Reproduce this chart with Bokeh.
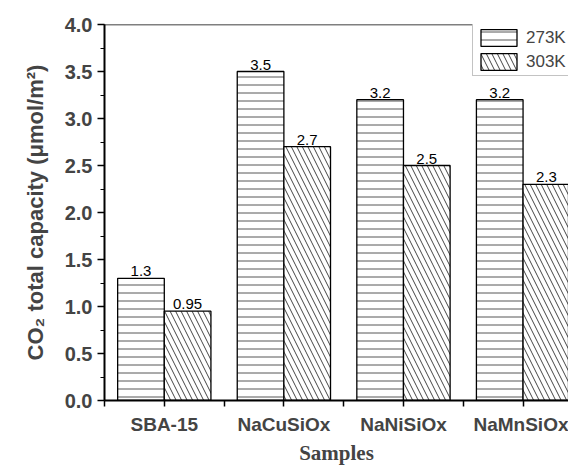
from bokeh.plotting import figure
from bokeh.models import (ColumnDataSource, FixedTicker, Range1d, Span, Legend, LegendItem,
                          PrintfTickFormatter)
from bokeh.transform import dodge
from bokeh.core.properties import value
from bokeh.embed import file_html
from bokeh.resources import INLINE

# ---- data ----
samples = ["SBA-15", "NaCuSiOx", "NaNiSiOx", "NaMnSiOx"]
cap_273K = [1.3, 3.5, 3.2, 3.2]
cap_303K = [0.95, 2.7, 2.5, 2.3]
lbl_273K = ["1.3", "3.5", "3.2", "3.2"]
lbl_303K = ["0.95", "2.7", "2.5", "2.3"]
series_names = ["273K", "303K"]
y_ticks = [0.0, 0.5, 1.0, 1.5, 2.0, 2.5, 3.0, 3.5, 4.0]

xpos = [i + 1 for i in range(len(samples))]
src = ColumnDataSource(dict(x=xpos, a=cap_273K, b=cap_303K, la=lbl_273K, lb=lbl_303K))

p = figure(width=568, height=467, output_backend="svg", toolbar_location=None,
           x_range=Range1d(0.5, 4.38), y_range=Range1d(0, 4.0),
           min_border_left=104, min_border_top=24, min_border_right=0, min_border_bottom=60)
p.outline_line_color = None
p.grid.visible = False
p.background_fill_color = "white"

bw = 0.39
r1 = p.vbar(x=dodge("x", -bw / 2), top="a", width=bw, source=src,
            fill_color="white", line_color="black", line_width=1.3,
            hatch_pattern="horizontal_line", hatch_scale=8, hatch_color="#555555", hatch_weight=1)
r2 = p.vbar(x=dodge("x", bw / 2), top="b", width=bw, source=src,
            fill_color="white", line_color="black", line_width=1.3,
            hatch_pattern="left_diagonal_line", hatch_scale=11, hatch_color="#444444", hatch_weight=1)

txt = dict(text_align="center", text_baseline="bottom", text_font_size="15px",
           text_color="black", y_offset=-2, text_font=value("Liberation Sans"))
p.text(x=dodge("x", -bw / 2), y="a", text="la", source=src, **txt)
p.text(x=dodge("x", bw / 2), y="b", text="lb", source=src, **txt)

# top frame line
p.add_layout(Span(location=4.0, dimension="width", line_color="black", line_width=1.5))

# axes
xa = p.xaxis[0]
xa.ticker = FixedTicker(ticks=xpos, minor_ticks=[0.5, 1.5, 2.5, 3.5, 4.5])
xa.major_label_overrides = {i + 1: s for i, s in enumerate(samples)}
xa.major_tick_out = 6
xa.major_tick_in = 0
xa.minor_tick_out = 6
xa.minor_tick_in = 0
xa.axis_line_width = 2
xa.major_tick_line_width = 1.5
xa.minor_tick_line_width = 1.5
xa.major_label_text_font = "Liberation Sans"
xa.major_label_text_font_style = "bold"
xa.major_label_text_font_size = "19px"
xa.major_label_standoff = 7
xa.axis_label = "Samples"
xa.axis_label_text_font = "Liberation Serif"
xa.axis_label_text_font_style = "bold"
xa.axis_label_text_font_size = "21px"
xa.axis_label_standoff = 3

ya = p.yaxis[0]
ya.ticker = FixedTicker(ticks=y_ticks, minor_ticks=[0.25 * k for k in range(17)])
ya.formatter = PrintfTickFormatter(format="%.1f")
ya.major_tick_out = 7
ya.major_tick_in = 0
ya.minor_tick_out = 4
ya.minor_tick_in = 0
ya.axis_line_width = 2
ya.major_tick_line_width = 1.5
ya.minor_tick_line_width = 1.2
ya.major_label_text_font = "Liberation Sans"
ya.major_label_text_font_style = "bold"
ya.major_label_text_font_size = "20px"
ya.major_label_standoff = 5
ya.axis_label = "CO\u2082 total capacity (\u03bcmol/m\u00b2)"
ya.axis_label_text_font = "Liberation Sans"
ya.axis_label_text_font_style = "bold"
ya.axis_label_text_font_size = "22px"
ya.axis_label_standoff = 14

legend = Legend(items=[LegendItem(label=series_names[0], renderers=[r1]),
                       LegendItem(label=series_names[1], renderers=[r2])],
                location=(368, 324), margin=0, padding=3, spacing=3,
                glyph_width=45, glyph_height=21, label_height=21, label_standoff=5,
                label_text_font="Liberation Sans", label_text_font_size="17px",
                border_line_color="#888888", border_line_width=1,
                background_fill_alpha=1.0)
p.add_layout(legend)

open("out.html", "w").write(file_html(p, INLINE))
